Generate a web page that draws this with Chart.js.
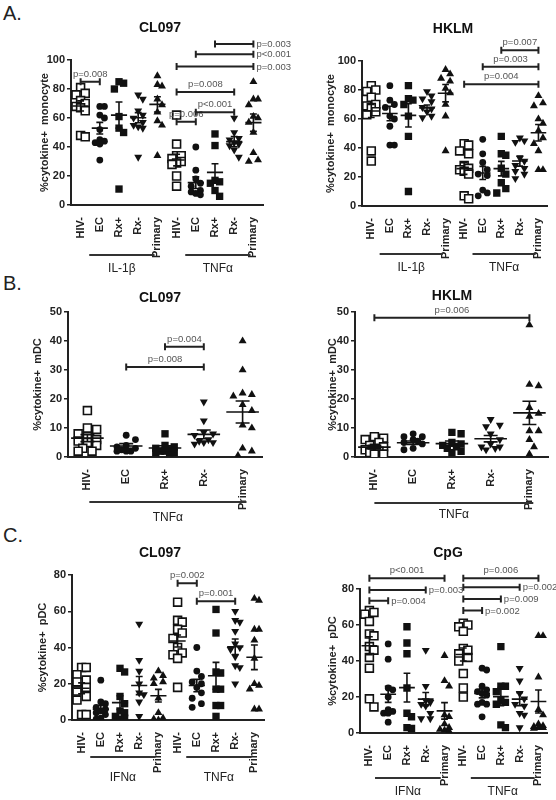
<!DOCTYPE html>
<html>
<head>
<meta charset="utf-8">
<script src="https://cdn.jsdelivr.net/npm/chart.js@4.4.1/dist/chart.umd.min.js"></script>
<style>
  body { margin: 0; background: #fff; width: 556px; height: 800px; position: relative; overflow: hidden; font-family: "Liberation Sans", Arial, sans-serif; }
  canvas { position: absolute; }
  .lab { position: absolute; font-size: 20px; color: #222; }
</style>
</head>
<body>
<div class="lab" style="left:3px;top:2px">A.</div>
<div class="lab" style="left:3px;top:272px">B.</div>
<div class="lab" style="left:3px;top:524px">C.</div>
<canvas id="aL"></canvas>
<canvas id="aR"></canvas>
<canvas id="bL"></canvas>
<canvas id="bR"></canvas>
<canvas id="cL"></canvas>
<canvas id="cR"></canvas>
<script>
const groups5 = ["HIV-", "EC", "Rx+", "Rx-", "Primary"];
const groups10 = groups5.concat(groups5);

// A. monocytes, CL097 (IL-1b then TNFa)
const monoCL = [
  [81, 77, 76, 72, 70, 68, 67, 65, 48, 47],
  [68, 68, 62, 60, 52, 45, 44, 43, 42, 31],
  [85, 84, 80, 61, 53, 50, 11],
  [76, 73, 65, 62, 60, 57, 55, 54, 53, 33],
  [89, 83, 82, 73, 69, 64, 58, 55, 34],
  [62, 42, 34, 34, 32, 30, 29, 28, 20, 13],
  [40, 24, 18, 15, 13, 10, 9, 8, 7],
  [49, 41, 17, 16, 15, 10, 6],
  [60, 50, 46, 45, 43, 42, 41, 38, 33],
  [85, 73, 73, 69, 61, 60, 57, 50, 36, 31, 30]
];
const monoCLMean = [68.3, 53, 62, 60.2, 69.4, 31, 15.4, 22.5, 43.7, 56.8];
const monoCLSem = [3.5, 4, 9, 3.5, 5.3, 4, 4, 6, 3.5, 6];
const monoCLP = [[0, 1, 85, "p=0.008", "top"], [5, 6, 57.5, "p=0.006", "top"], [6, 8, 64, "p<0.001", "top"],
  [5, 8, 78, "p=0.008", "top"], [5, 9, 95.5, "p=0.003", "right"], [6, 9, 104, "p<0.001", "right"], [7, 9, 111, "p=0.003", "right"]];

// A. monocytes, HKLM
const monoHK = [
  [83, 80, 79, 75, 70, 69, 68, 65, 63, 38, 31],
  [83, 73, 70, 68, 62, 60, 55, 42, 42],
  [83, 74, 73, 70, 62, 48, 10],
  [79, 76, 74, 72, 68, 67, 65, 62, 61],
  [94, 91, 88, 86, 81, 78, 70, 62, 38],
  [43, 42, 38, 36, 28, 26, 25, 24, 22, 7, 5],
  [46, 36, 30, 25, 22, 21, 11, 9, 7],
  [48, 36, 35, 26, 22, 16, 12, 9],
  [47, 45, 44, 33, 31, 28, 26, 24, 22, 19],
  [76, 71, 69, 60, 57, 52, 47, 43, 38, 25, 25]
];
const monoHKMean = [65.5, 63.8, 62.5, 67.7, 77.8, 25.8, 22.8, 25.8, 31, 50.5];
const monoHKSem = [4.5, 5, 8, 2, 6, 4, 4.5, 5, 3.5, 5.7];
const monoHKP = [[5, 9, 84, "p=0.004", "top"], [6, 9, 96, "p=0.003", "top"], [7, 9, 107.5, "p=0.007", "top"]];

// B. mDC, CL097 (TNFa)
const mdcCL = [
  [16, 10, 9.5, 8, 7, 6, 5.5, 5, 4, 3, 2, 2],
  [7.5, 6, 4, 3.5, 3, 2.5, 2, 2, 2],
  [8, 4, 3.5, 3, 2.5, 2, 2, 1.5, 1.5, 1.5],
  [19, 12.5, 8.5, 8, 7.5, 6, 5.5, 5, 5, 4.5],
  [40, 30, 22, 21.5, 21, 18, 16, 11, 10, 3, 2, 0.5]
];
const mdcCLMean = [6.5, 3.8, 3.1, 7.8, 15.5];
const mdcCLSem = [1.2, 0.8, 0.8, 1.5, 3.8];
const mdcCLP = [[2, 3, 38, "p=0.004", "top"], [1, 3, 31, "p=0.008", "top"]];

// B. mDC, HKLM
const mdcHK = [
  [7, 6.5, 6, 5, 4, 3.5, 3, 2.5, 2, 1.5, 1, 1],
  [8, 7, 7, 6, 5.5, 5, 4.5, 3, 2.5],
  [8.5, 8, 5, 4.5, 4, 3.5, 3, 2, 1.5],
  [13, 11, 10.5, 8, 6, 4.5, 3.5, 3.5, 3, 2.5],
  [45.5, 25, 24.5, 17, 15, 14, 9, 9, 6, 3.5, 1]
];
const mdcHKMean = [3.4, 4.9, 4.6, 6.3, 15.2];
const mdcHKSem = [0.6, 0.6, 0.9, 1.1, 4];
const mdcHKP = [[0, 4, 48, "p=0.006", "top"]];

// C. pDC, CL097 (IFNa then TNFa)
const pdcCL = [
  [29, 29, 25, 22, 21, 18, 16, 13, 11, 3, 3],
  [22, 10, 9, 7, 6, 5, 4, 3, 1, 0.5],
  [28.5, 26.5, 13, 9, 5, 4, 2, 1, 0.5],
  [53, 33, 27, 20, 15, 14, 10, 2],
  [27, 24.5, 23, 21, 20, 12, 4, 1, 0.5, 0, 0],
  [65, 55, 54, 50, 48, 45, 40, 37, 36, 34, 18],
  [40, 27, 24, 21, 20, 18, 15, 12, 9, 7],
  [61, 48, 26.5, 26, 17, 17, 8, 8, 2],
  [60, 55, 54, 49, 42, 40, 39, 35, 30, 29, 20],
  [67, 66, 50, 50, 44, 34, 20, 19, 17, 6, 6]
];
const pdcCLMean = [17.5, 6, 9.6, 19, 13.4, 43.6, 19, 24.4, 40.4, 34.6];
const pdcCLSem = [3, 2, 3.8, 5, 3.5, 3.3, 3.4, 7.4, 4.3, 6.8];
const pdcCLP = [[5, 6, 75.5, "p=0.002", "top"], [6, 8, 65.5, "p=0.001", "top"]];

// C. pDC, CpG
const pdcCpG = [
  [68, 67, 66, 62, 55, 54, 48, 46, 42, 36, 19, 14.5],
  [49.5, 41, 25, 24, 20, 13, 12, 11, 11, 6],
  [59, 50, 44, 25, 11, 9, 3, 2.5],
  [46, 26, 18, 17, 16, 15, 11, 8, 8],
  [43, 29, 26, 10, 9, 5, 3, 2, 1.5, 1],
  [61, 60, 59, 56.5, 47, 46, 44, 42, 40, 33, 25, 20],
  [36, 35, 26, 24, 23, 22, 21, 17, 16, 16, 9],
  [48, 26, 26, 23, 18, 17, 16, 4.5, 3],
  [36, 29, 22, 19, 16, 15, 11, 10, 3],
  [54, 54, 31, 13, 10, 5, 4, 3.5, 3, 3, 2.5]
];
const pdcCpGMean = [48.5, 21.5, 25.2, 18.8, 12.3, 43.6, 22, 20.2, 18.8, 17.5];
const pdcCpGSem = [5, 4.5, 8, 3.7, 4.6, 3.6, 2.5, 5, 3.6, 6.4];
const pdcCpGP = [[0, 4, 86, "p<0.001", "top"], [0, 3, 79.5, "p=0.003", "right"], [0, 1, 73.5, "p=0.004", "right"],
  [5, 9, 86, "p=0.006", "top"], [5, 8, 81, "p=0.002", "right"], [5, 7, 74.5, "p=0.009", "right"], [5, 6, 68, "p=0.002", "right"]];

Chart.defaults.font.family = '"Liberation Sans", Arial, sans-serif';
Chart.defaults.color = "#222";

const marks = [
  { pointStyle: "rect", radius: 5.6, fill: "#fff", border: 1.6 },
  { pointStyle: "circle", radius: 3.4, fill: "#111", border: 0 },
  { pointStyle: "rect", radius: 5.2, fill: "#111", border: 0 },
  { pointStyle: "triangle", radius: 4.6, fill: "#111", border: 0, rot: 180 },
  { pointStyle: "triangle", radius: 4.6, fill: "#111", border: 0 }
];

// spread points sideways so close values don't overlap
function swarm(vals, pxPerUnit, spacing, r) {
  const order = vals.map((v, i) => i).sort((a, b) => vals[b] - vals[a]);
  const placed = [];
  const off = new Array(vals.length).fill(0);
  const limit = Math.min(spacing * 0.45, 12);
  order.forEach(i => {
    const py = vals[i] * pxPerUnit;
    let best = 0, bestScore = Infinity;
    for (let k = 0; k < 11; k++) {
      const cand = k === 0 ? 0 : (k % 2 ? 1 : -1) * Math.ceil(k / 2) * r * 1.1;
      if (Math.abs(cand) > limit) continue;
      let worst = 0;
      placed.forEach(p => {
        const d = Math.hypot(p.x - cand, p.y - py);
        if (d < 2 * r) worst = Math.max(worst, 2 * r - d);
      });
      if (worst === 0) { best = cand; break; }
      if (worst < bestScore) { bestScore = worst; best = cand; }
    }
    placed.push({ x: best, y: py });
    off[i] = best / spacing;
  });
  return off;
}

function makePanel(p) {
  const cv = document.getElementById(p.id);
  cv.width = p.w; cv.height = p.h;
  cv.style.left = p.left + "px"; cv.style.top = p.top + "px";
  cv.style.width = p.w + "px"; cv.style.height = p.h + "px";
  const n = p.labels.length;
  const areaW = p.area.r - p.area.l, areaH = p.area.b - p.area.t;
  const spacing = areaW / n;

  const datasets = p.values.map((vals, i) => {
    const m = marks[i % 5];
    const off = swarm(vals, areaH / p.yMax, spacing, 4.2);
    return {
      data: vals.map((v, j) => ({ x: i + off[j], y: v })),
      pointStyle: m.pointStyle,
      pointRadius: m.radius,
      pointRotation: m.rot || 0,
      backgroundColor: m.fill,
      borderColor: "#111",
      borderWidth: m.border
    };
  });

  const extras = {
    id: "extras",
    afterDatasetsDraw(chart) {
      const ctx = chart.ctx, x = chart.scales.x, y = chart.scales.y;
      const sp = x.getPixelForValue(1) - x.getPixelForValue(0);
      ctx.save();
      ctx.strokeStyle = "#111";
      ctx.lineWidth = 1.6;
      p.mean.forEach((m, i) => {
        const cx = x.getPixelForValue(i);
        const half = Math.min(sp * 0.42, 17), cap = Math.min(sp * 0.18, 7);
        const ym = y.getPixelForValue(m);
        const yt = y.getPixelForValue(m + p.sem[i]), yb = y.getPixelForValue(m - p.sem[i]);
        ctx.beginPath();
        ctx.moveTo(cx - half, ym); ctx.lineTo(cx + half, ym);
        ctx.moveTo(cx, yt); ctx.lineTo(cx, yb);
        ctx.moveTo(cx - cap, yt); ctx.lineTo(cx + cap, yt);
        ctx.moveTo(cx - cap, yb); ctx.lineTo(cx + cap, yb);
        ctx.stroke();
      });
      ctx.restore();
    },
    afterDraw(chart) {
      const ctx = chart.ctx, x = chart.scales.x, y = chart.scales.y, a = chart.chartArea;
      ctx.save();
      // brackets
      p.brackets.forEach(([from, to, val, txt, pos]) => {
        const x1 = x.getPixelForValue(from), x2 = x.getPixelForValue(to), yy = y.getPixelForValue(val);
        ctx.strokeStyle = "#222";
        ctx.lineWidth = 2;
        ctx.beginPath();
        ctx.moveTo(x1, yy); ctx.lineTo(x2, yy);
        ctx.moveTo(x1, yy - 3.5); ctx.lineTo(x1, yy + 3.5);
        ctx.moveTo(x2, yy - 3.5); ctx.lineTo(x2, yy + 3.5);
        ctx.stroke();
        ctx.fillStyle = "#555";
        ctx.font = '9.5px "Liberation Sans", Arial, sans-serif';
        if (pos === "top") {
          ctx.textAlign = "center"; ctx.textBaseline = "bottom";
          ctx.fillText(txt, (x1 + x2) / 2, yy - 3);
        } else {
          ctx.textAlign = "left"; ctx.textBaseline = "middle";
          ctx.fillText(txt, x2 + 3, yy + 0.5);
        }
      });
      // stimulus groups under the axis
      p.groups.forEach(([from, to, txt]) => {
        const x1 = x.getPixelForValue(from), x2 = x.getPixelForValue(to);
        const yl = a.bottom + p.groupLine;
        ctx.strokeStyle = "#333";
        ctx.lineWidth = 2;
        ctx.beginPath(); ctx.moveTo(x1, yl); ctx.lineTo(x2, yl); ctx.stroke();
        ctx.fillStyle = "#222";
        ctx.font = '12px "Liberation Sans", Arial, sans-serif';
        ctx.textAlign = "center"; ctx.textBaseline = "middle";
        ctx.fillText(txt, (x1 + x2) / 2, a.bottom + p.groupText);
      });
      // panel title
      ctx.fillStyle = "#111";
      ctx.font = 'bold 14px "Liberation Sans", Arial, sans-serif';
      ctx.textAlign = "center"; ctx.textBaseline = "middle";
      ctx.fillText(p.title, p.titleX - p.left, p.titleY - p.top);
      ctx.restore();
    }
  };

  const yw = p.area.l - p.left;
  const xh = p.top + p.h - p.area.b;
  const lh = 11 * 1.2;

  new Chart(cv, {
    type: "scatter",
    data: { datasets },
    options: {
      responsive: false,
      animation: false,
      events: [],
      layout: { padding: { top: p.area.t - p.top, right: p.left + p.w - p.area.r, left: 0, bottom: 0 } },
      plugins: { legend: { display: false }, tooltip: { enabled: false } },
      scales: {
        x: {
          type: "linear",
          bounds: "data",
          min: -0.5,
          max: n - 0.5,
          afterBuildTicks: s => { s.ticks = p.labels.map((_, i) => ({ value: i })); },
          afterFit: s => { s.height = xh; },
          grid: { display: false },
          border: { color: "#222", width: 2 },
          ticks: {
            autoSkip: false,
            minRotation: 90,
            maxRotation: 90,
            padding: 4,
            color: "#222",
            font: { size: 11, weight: "bold" },
            callback: v => p.labels[v]
          }
        },
        y: {
          min: 0,
          max: p.yMax,
          afterFit: s => { s.width = yw; },
          grid: { drawOnChartArea: false, tickLength: 4, color: "#222", lineWidth: 1.5 },
          border: { color: "#222", width: 2 },
          ticks: { stepSize: p.yStep, padding: 2, color: "#222", font: { size: 11, weight: "bold" } },
          title: {
            display: true,
            text: p.yTitle,
            color: "#222",
            font: { size: 11, weight: "bold" },
            padding: { top: p.yTitleX - p.left - lh / 2, bottom: 0 }
          }
        }
      }
    },
    plugins: [extras]
  });
}

makePanel({ id: "aL", left: 0, top: 0, w: 320, h: 280, area: { l: 71, r: 263, t: 60, b: 205 },
  labels: groups10, values: monoCL, mean: monoCLMean, sem: monoCLSem, brackets: monoCLP,
  yMax: 100, yStep: 20, yTitle: "%cytokine+  monocyte", yTitleX: 45, title: "CL097", titleX: 160, titleY: 28,
  groups: [[0.45, 3.85, "IL-1β"], [5.45, 8.85, "TNFα"]], groupLine: 50, groupText: 64 });

makePanel({ id: "aR", left: 278, top: 0, w: 278, h: 280, area: { l: 362, r: 552, t: 61, b: 206 },
  labels: groups10, values: monoHK, mean: monoHKMean, sem: monoHKSem, brackets: monoHKP,
  yMax: 100, yStep: 20, yTitle: "%cytokine+  monocyte", yTitleX: 331, title: "HKLM", titleX: 453, titleY: 29,
  groups: [[0.45, 3.85, "IL-1β"], [5.45, 8.85, "TNFα"]], groupLine: 48, groupText: 62 });

makePanel({ id: "bL", left: 0, top: 270, w: 278, h: 258, area: { l: 68, r: 262, t: 312, b: 457 },
  labels: groups5, values: mdcCL, mean: mdcCLMean, sem: mdcCLSem, brackets: mdcCLP,
  yMax: 50, yStep: 10, yTitle: "%cytokine+  mDC", yTitleX: 38, title: "CL097", titleX: 160, titleY: 298,
  groups: [[0.05, 4.1, "TNFα"]], groupLine: 45, groupText: 61 });

makePanel({ id: "bR", left: 278, top: 270, w: 278, h: 258, area: { l: 355, r: 550, t: 312, b: 457 },
  labels: groups5, values: mdcHK, mean: mdcHKMean, sem: mdcHKSem, brackets: mdcHKP,
  yMax: 50, yStep: 10, yTitle: "%cytokine+  mDC", yTitleX: 333, title: "HKLM", titleX: 452, titleY: 296,
  groups: [[0, 4.1, "TNFα"]], groupLine: 46, groupText: 58 });

makePanel({ id: "cL", left: 0, top: 520, w: 278, h: 280, area: { l: 72, r: 264, t: 575, b: 720 },
  labels: groups10, values: pdcCL, mean: pdcCLMean, sem: pdcCLSem, brackets: pdcCLP,
  yMax: 80, yStep: 20, yTitle: "%cytokine+  pDC", yTitleX: 43, title: "CL097", titleX: 160, titleY: 553,
  groups: [[0.45, 3.85, "IFNα"], [5.45, 8.85, "TNFα"]], groupLine: 37, groupText: 58 });

makePanel({ id: "cR", left: 278, top: 520, w: 278, h: 280, area: { l: 360, r: 550, t: 589, b: 733 },
  labels: groups10, values: pdcCpG, mean: pdcCpGMean, sem: pdcCpGSem, brackets: pdcCpGP,
  yMax: 80, yStep: 20, yTitle: "%cytokine+  pDC", yTitleX: 333, title: "CpG", titleX: 448, titleY: 553,
  groups: [[0.3, 3.8, "IFNα"], [5.4, 8.8, "TNFα"]], groupLine: 45, groupText: 59 });
</script>
</body>
</html>
